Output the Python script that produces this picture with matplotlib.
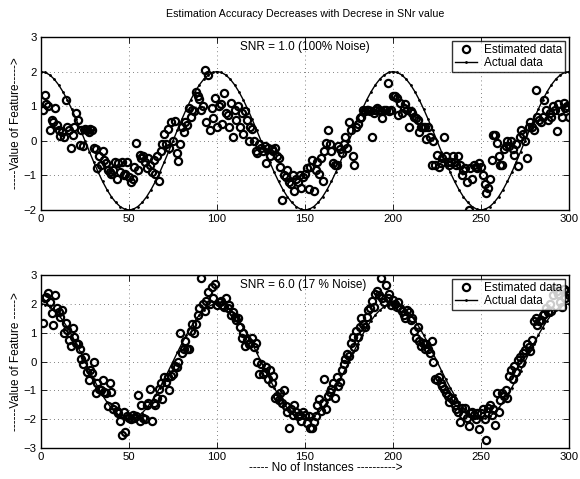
import numpy as np
import matplotlib
matplotlib.use('Agg')
import matplotlib.pyplot as plt

plt.rcParams['font.family'] = ['Liberation Sans', 'DejaVu Sans']

# ── data ─────────────────────────────────────────────────────────────────────
instances = np.arange(1, 301)

# actual feature, sampled every 2.5 instances
actual_x = np.arange(0, 300.1, 2.5)
actual_y = [
    2.000, 1.975, 1.902, 1.782, 1.618, 1.414, 1.176, 0.908, 0.618, 0.313,
    0.000, -0.313, -0.618, -0.908, -1.176, -1.414, -1.618, -1.782, -1.902, -1.975,
    -2.000, -1.975, -1.902, -1.782, -1.618, -1.414, -1.176, -0.908, -0.618, -0.313,
    0.000, 0.313, 0.618, 0.908, 1.176, 1.414, 1.618, 1.782, 1.902, 1.975,
    2.000, 1.975, 1.902, 1.782, 1.618, 1.414, 1.176, 0.908, 0.618, 0.313,
    0.000, -0.313, -0.618, -0.908, -1.176, -1.414, -1.618, -1.782, -1.902, -1.975,
    -2.000, -1.975, -1.902, -1.782, -1.618, -1.414, -1.176, -0.908, -0.618, -0.313,
    0.000, 0.313, 0.618, 0.908, 1.176, 1.414, 1.618, 1.782, 1.902, 1.975,
    2.000, 1.975, 1.902, 1.782, 1.618, 1.414, 1.176, 0.908, 0.618, 0.313,
    0.000, -0.313, -0.618, -0.908, -1.176, -1.414, -1.618, -1.782, -1.902, -1.975,
    -2.000, -1.975, -1.902, -1.782, -1.618, -1.414, -1.176, -0.908, -0.618, -0.313,
    0.000, 0.313, 0.618, 0.908, 1.176, 1.414, 1.618, 1.782, 1.902, 1.975,
    2.000,
]

# estimated feature, SNR = 1.0
est_snr1 = [
    0.90, 1.33, 1.05, 1.00, 0.32, 0.60, 0.55, 0.94, 0.45, 0.30,
    0.15, 0.25, 0.10, 1.18, 0.40, 0.30, -0.20, 0.17, 0.40, 0.80,
    0.60, -0.12, 0.30, -0.15, 0.35, 0.30, 0.25, 0.35, 0.30, -0.20,
    -0.25, -0.80, -0.45, -0.70, -0.30, -0.55, -0.65, -0.85, -0.90, -0.95,
    -0.85, -0.60, -1.10, -0.65, -0.90, -0.60, -1.00, -0.95, -0.60, -1.05,
    -1.20, -1.10, -0.75, -0.07, -0.85, -0.40, -0.50, -0.45, -0.60, -0.80,
    -0.50, -0.70, -0.90, -0.55, -0.95, -0.45, -1.17, -0.30, -0.10, 0.20,
    -0.10, 0.35, -0.20, 0.55, 0.00, 0.56, -0.35, -0.57, -0.10, 0.40,
    0.25, 0.55, 0.45, 0.95, 0.70, 0.90, 0.85, 1.40, 1.30, 1.20,
    0.90, 1.00, 2.05, 0.55, 1.90, 0.30, 0.95, 0.65, 1.25, 0.40,
    1.00, 1.05, 0.50, 1.37, 0.80, 0.75, 0.40, 1.10, 0.10, 0.90,
    0.60, 1.00, 0.40, 0.80, 0.20, 0.85, 0.60, 0.00, 0.40, 0.35,
    0.00, -0.30, -0.35, -0.10, -0.20, -0.30, -0.15, -0.65, -0.20, -0.45,
    -0.25, -0.30, -0.20, -0.45, -0.50, -0.75, -1.70, -1.00, -1.05, -0.85,
    -1.20, -1.25, -1.00, -1.45, -1.10, -1.20, -1.00, -1.35, -1.05, -0.95,
    -0.80, -1.40, -0.75, -0.55, -1.46, -0.85, -0.60, -0.95, -0.50, -1.17,
    -0.30, -0.05, 0.30, -0.10, -0.30, -0.65, -0.70, -0.70, -0.15, -0.25,
    -0.35, -0.10, 0.10, -0.20, 0.55, 0.30, -0.45, -0.70, 0.40, 0.50,
    0.65, 0.70, 0.90, 0.85, 0.90, 0.90, 0.85, 0.10, 0.80, 0.90,
    0.95, 0.90, 0.85, 0.65, 0.90, 0.90, 1.66, 0.85, 0.90, 1.30,
    1.30, 1.25, 0.75, 1.10, 0.80, 0.95, 1.05, 0.90, 0.40, 0.85,
    0.80, 0.70, 0.65, 0.60, 0.25, 0.40, 0.40, 0.40, 0.05, 0.40,
    0.10, -0.70, 0.00, -0.70, -0.40, -0.75, -0.65, -0.50, 0.12, -0.45,
    -0.60, -0.70, -0.60, -0.45, -0.60, -0.70, -0.45, -0.70, -1.00, -0.85,
    -0.80, -1.20, -1.99, -0.80, -1.10, -0.70, -0.75, -0.80, -0.65, -0.75,
    -1.00, -1.25, -1.50, -1.35, -1.10, -0.55, 0.17, 0.17, -0.05, -0.45,
    -0.70, -0.70, -0.25, -0.15, 0.00, -0.15, 0.00, -0.25, -0.40, -0.10,
    -0.74, 0.10, 0.30, 0.20, 0.00, -0.50, 0.40, 0.55, 0.40, 0.30,
    1.47, 0.70, 0.60, 0.55, 0.70, 1.18, 0.90, 0.60, 0.80, 0.70,
    1.00, 0.90, 0.27, 1.05, 0.85, 0.70, 1.10, 0.95, 1.00, 0.70,
]

# estimated feature, SNR = 6.0
est_snr6 = [
    1.33, 2.20, 2.25, 2.38, 2.05, 1.68, 1.27, 2.30, 1.85, 1.72,
    1.55, 1.80, 1.00, 1.35, 1.10, 0.75, 0.55, 1.15, 0.85, 0.65,
    0.60, 0.45, 0.10, -0.10, 0.15, -0.35, -0.65, -0.30, -0.40, 0.00,
    -1.10, -0.75, -0.95, -1.00, -0.65, -1.05, -1.10, -1.55, -0.75, -1.05,
    -1.65, -1.55, -1.70, -1.80, -2.05, -2.55, -1.75, -2.45, -1.90, -1.95,
    -2.00, -1.85, -1.95, -1.90, -1.15, -2.05, -1.50, -1.95, -2.00, -1.50,
    -1.45, -0.95, -2.05, -1.45, -1.50, -1.25, -0.95, -0.75, -1.30, -0.55,
    -0.70, -0.55, -1.00, -0.50, -0.45, -0.15, -0.20, 0.00, 1.00, 0.30,
    0.45, 0.70, 0.45, 0.45, 1.05, 1.30, 1.00, 1.30, 1.60, 1.85,
    2.88, 2.00, 1.75, 2.10, 2.40, 2.00, 2.60, 2.20, 2.70, 1.95,
    2.05, 2.10, 1.95, 1.90, 2.20, 1.85, 1.95, 1.60, 1.70, 1.55,
    1.45, 1.50, 1.20, 0.80, 1.00, 0.55, 0.75, 0.60, 0.65, 0.80,
    0.50, 0.65, 0.00, -0.45, -0.10, -0.45, -0.35, -0.20, -0.60, -0.30,
    -0.75, -0.50, -1.25, -1.20, -1.35, -1.10, -1.45, -1.00, -1.55, -1.75,
    -2.30, -1.65, -1.85, -1.50, -1.75, -1.90, -1.85, -2.05, -1.75, -1.85,
    -2.15, -1.90, -2.30, -2.30, -2.10, -1.90, -1.50, -1.30, -1.70, -1.45,
    -0.60, -1.65, -1.20, -1.05, -0.95, -0.75, -1.25, -0.55, -0.85, -0.70,
    -0.30, -0.10, 0.10, 0.25, 0.20, 0.65, 0.85, 0.50, 1.05, 0.85,
    1.20, 1.50, 1.30, 1.20, 1.55, 1.80, 1.85, 2.10, 1.90, 2.35,
    2.45, 2.30, 2.88, 2.20, 2.05, 2.65, 2.20, 2.35, 1.95, 2.15,
    2.00, 1.90, 2.05, 1.85, 1.75, 1.60, 1.50, 1.80, 1.70, 1.45,
    1.50, 1.05, 0.80, 1.20, 0.70, 0.55, 0.65, 0.45, 0.60, 0.45,
    0.30, 0.70, 0.00, -0.60, -0.65, -0.55, -0.75, -0.85, -0.95, -1.10,
    -1.20, -1.40, -1.25, -1.35, -1.50, -1.65, -1.75, -2.10, -1.60, -1.85,
    -1.60, -1.95, -2.25, -1.80, -1.75, -1.85, -2.00, -1.80, -2.35, -1.80,
    -1.65, -2.00, -2.71, -1.60, -1.50, -1.85, -1.65, -2.20, -1.10, -1.75,
    -1.35, -1.10, -1.20, -1.00, -1.25, -0.50, -0.30, -0.60, -0.15, -0.35,
    0.05, 0.15, -0.05, 0.30, 0.40, 0.60, 0.50, 0.35, 0.75, 1.40,
    1.50, 1.25, 1.40, 1.45, 1.60, 1.65, 1.85, 1.70, 2.00, 1.75,
    2.30, 2.55, 2.45, 2.35, 2.05, 1.90, 2.50, 2.20, 2.45, 2.30,
]

x_ticks = [0, 50, 100, 150, 200, 250, 300]

# ── figure ───────────────────────────────────────────────────────────────────
fig = plt.figure(figsize=(5.8, 4.79), dpi=100)
ax1 = fig.add_axes([41/580, 1 - 210/479, 528/580, 173/479])
ax2 = fig.add_axes([41/580, 1 - 448/479, 528/580, 173/479])

panels = [
    (ax1, est_snr1, (-2, 3), 'SNR = 1.0 (100% Noise)', 2.72,
     '-----Value of Feature----->'),
    (ax2, est_snr6, (-3, 3), 'SNR = 6.0 (17 % Noise)', 2.65,
     '------Value of Feature ----->'),
]

for ax, est, ylim, note, note_y, ylab in panels:
    ax.plot(instances, est, 'o', mfc='none', mec='black', ms=5.2, mew=1.6,
            label='Estimated data', zorder=3)
    ax.plot(actual_x, actual_y, '.-', color='black', lw=1.0, ms=2,
            label='Actual data', zorder=4)
    ax.set_xlim(0, 300)
    ax.set_ylim(*ylim)
    ax.set_xticks(x_ticks)
    ax.set_yticks(range(ylim[0], ylim[1] + 1))
    ax.grid(True, linestyle=(0, (1, 4)), color='0.35', linewidth=0.6)
    ax.set_axisbelow(True)
    ax.tick_params(direction='in', top=True, right=True, labelsize=8.2,
                   length=4, width=0.6, pad=3)
    for s in ax.spines.values():
        s.set_linewidth(1.0)
    ax.text(113, note_y, note, fontsize=8.5, ha='left', va='center')
    ax.set_ylabel(ylab, fontsize=8.5, labelpad=1)
    leg = ax.legend(loc='upper right', fontsize=8.5, frameon=True,
                    fancybox=False, borderaxespad=0.35, handlelength=1.8,
                    handletextpad=0.6, borderpad=0.25, labelspacing=0.1)
    leg.get_frame().set_edgecolor('black')
    leg.get_frame().set_linewidth(1.0)

fig.text(305/580, 1 - 14/479,
         'Estimation Accuracy Decreases with Decrese in SNr value',
         fontsize=7.7, ha='center', va='center')
fig.text(326/580, 1 - 468/479, '----- No of Instances ---------->',
         fontsize=8.5, ha='center', va='center')

fig.savefig('out.png', dpi=100)
